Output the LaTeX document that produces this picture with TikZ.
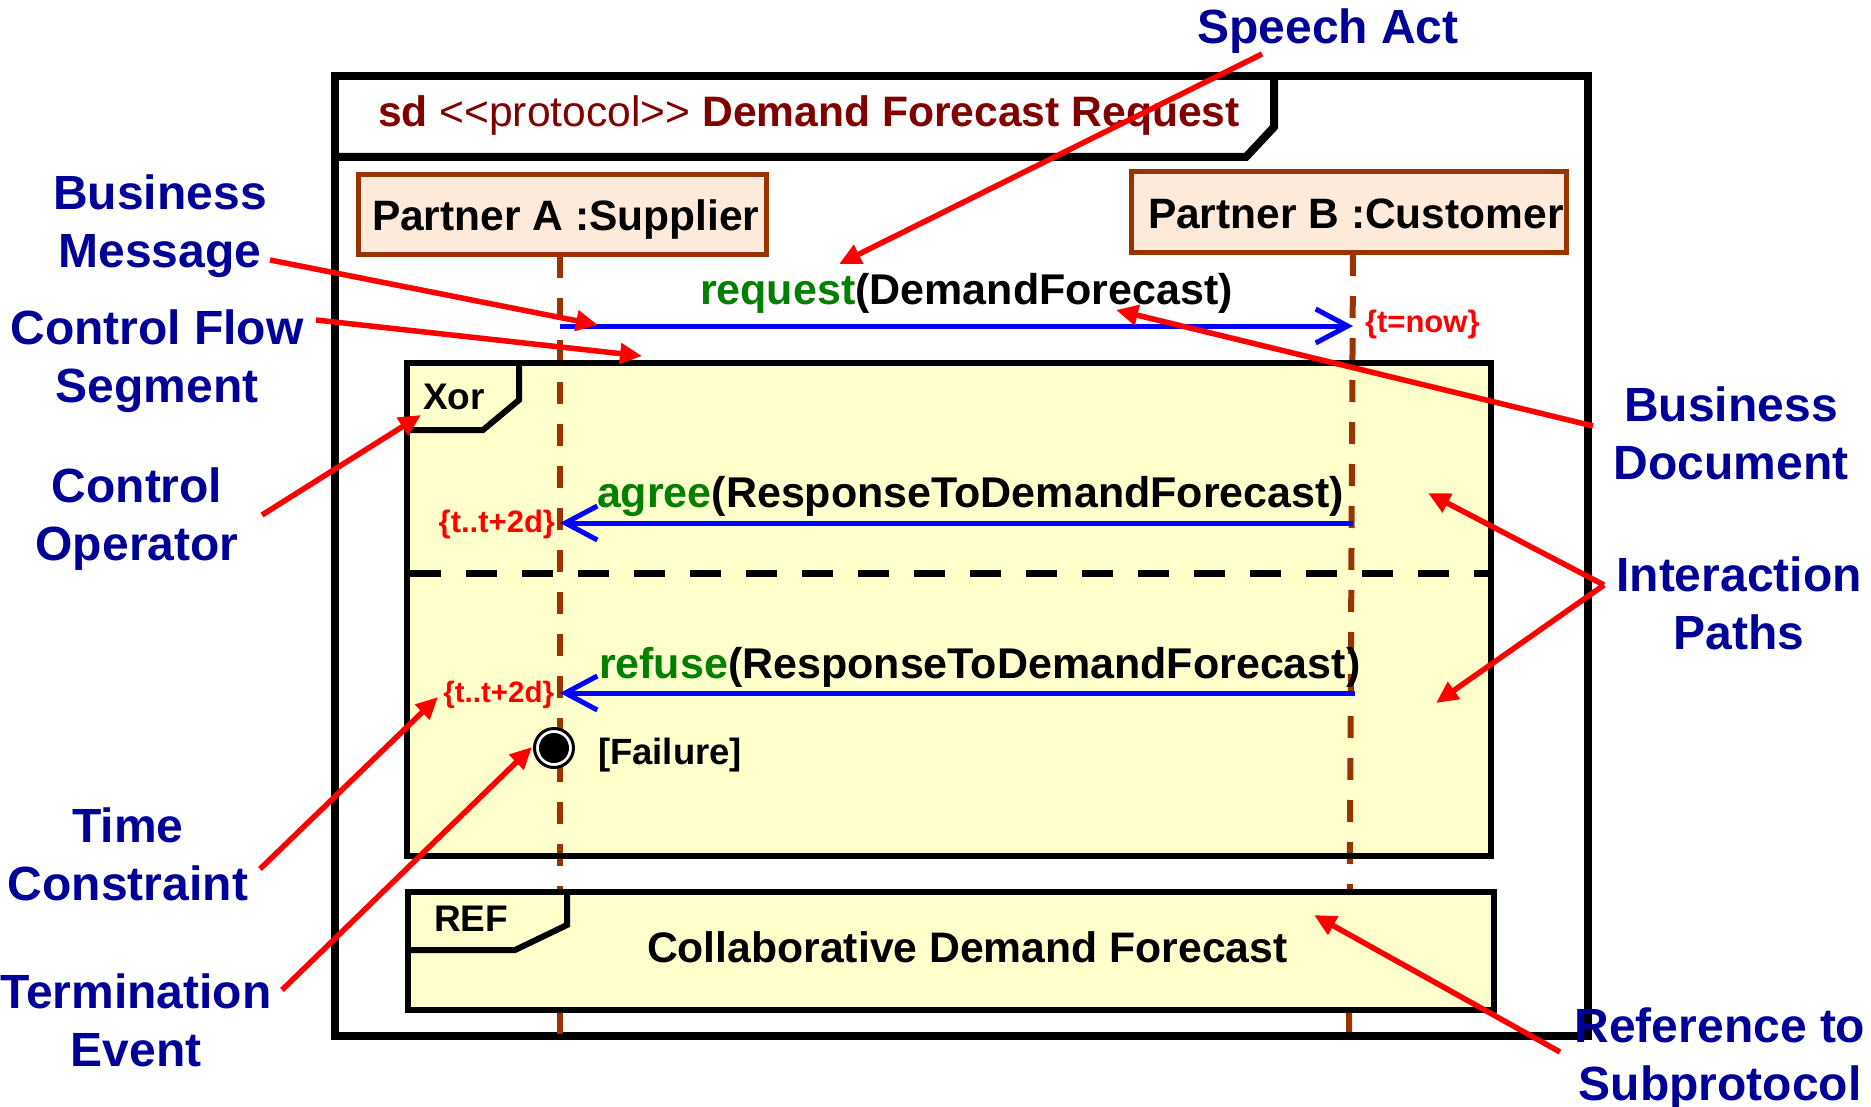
\documentclass[tikz,border=0pt]{standalone}
\usepackage{fontspec}
\setmainfont{Liberation Sans}
\usetikzlibrary{arrows.meta}

\definecolor{labelblue}{RGB}{0,0,153}
\definecolor{titlered}{RGB}{128,0,0}
\definecolor{lifebrown}{RGB}{153,51,0}
\definecolor{peach}{RGB}{253,234,218}
\definecolor{paleyellow}{RGB}{255,255,204}
\definecolor{msggreen}{RGB}{0,128,0}
\definecolor{msgblue}{RGB}{0,0,255}
\definecolor{notered}{RGB}{255,0,0}

\newcommand\setfs[2]{\fontsize{#1}{#2}\selectfont}

\begin{document}
\begin{tikzpicture}[x=1pt,y=-1pt,
  every node/.style={inner sep=0pt,outer sep=0pt},
  frameline/.style={line width=8pt,line join=miter},
  fragline/.style={line width=6pt,line join=miter},
  lifeline/.style={draw=lifebrown,line width=6pt,dash pattern=on 22pt off 20pt},
  partner/.style={draw=lifebrown,line width=5pt,fill=peach},
  partnertext/.style={anchor=base west,font=\setfs{42.5}{51}\bfseries},
  msg/.style={draw=msgblue,line width=5pt,-{Straight Barb[length=32pt,width=34pt]}},
  msgtext/.style={anchor=base west,font=\setfs{43}{52}\bfseries},
  timetext/.style={text=notered,font=\setfs{31}{37}\bfseries},
  fragtext/.style={anchor=base west,font=\setfs{37}{44}\bfseries},
  note/.style={draw=notered,line width=5.5pt,-{Triangle[length=22pt,width=20pt]}},
  notelabel/.style={text=labelblue,align=center,font=\setfs{48}{58}\bfseries},
]
\useasboundingbox (0,0) rectangle (1871,1107);

% diagram frame and its title tab
\draw[frameline,fill=white] (335,76) rectangle (1588,1036);
\draw[frameline] (335,157) -- (1246,157) -- (1274,127) -- (1274,76);
\node[anchor=base west,text=titlered,font=\setfs{42.6}{51}] (title) at (378,127)
  {\textbf{sd} <\kern0pt<protocol>\kern0pt> \textbf{Demand Forecast Request}};

% Xor combined fragment (fill first, lifelines cross it)
\fill[paleyellow] (407,363) rectangle (1491,856);

% lifelines
\coordinate (lifeA-top) at (560,256);
\coordinate (lifeA-end) at (560,1034);
\coordinate (lifeB-top) at (1353,254);
\coordinate (lifeB-end) at (1349,1034);
\draw[lifeline] (lifeA-top) -- (lifeA-end);
\draw[lifeline] (lifeB-top) -- (lifeB-end);

% Xor fragment border, tab and operand separator
\draw[fragline] (407,363) rectangle (1491,856);
\draw[fragline] (519,363) -- (519,400) -- (483,430) -- (407,430);
\node[fragtext] (xor) at (423,409) {Xor};
\coordinate (sepL) at (410,573);
\coordinate (sepR) at (1488,573);
\draw[line width=7pt,dash pattern=on 31pt off 25pt] (sepL) -- (sepR);

% REF interaction use (covers the lifelines)
\draw[fragline,fill=paleyellow] (408,892) rectangle (1494,1010);
\draw[fragline] (567,892) -- (567,925) -- (515,950) -- (408,950);
\node[fragtext] (ref) at (434,931) {REF};
\node[msgtext,font=\setfs{42.7}{51}\bfseries] (refname) at (647,962) {Collaborative Demand Forecast};

% partners
\node[partner,minimum width=408pt,minimum height=80pt] (pa) at (562,215) {};
\node[partnertext] (patext) at (372,231) {Partner A :Supplier};
\node[partner,minimum width=435pt,minimum height=81pt] (pb) at (1349,212.5) {};
\node[partnertext] (pbtext) at (1148,229) {Partner B :Customer};

% request message
\coordinate (reqA) at (560,326);
\coordinate (reqB) at (1353,326);
\draw[msg] (reqA) -- (reqB);
\node[msgtext] (reqtext) at (700,305) {\textcolor{msggreen}{request}(DemandForecast)};
\node[timetext,anchor=base west] (tnow) at (1365,332) {\{t=now\}};

% agree message
\coordinate (agrB) at (1353,523);
\coordinate (agrA) at (560,523);
\draw[msg] (agrB) -- (agrA);
\node[msgtext] (agrtext) at (597,507) {\textcolor{msggreen}{agree}(ResponseToDemandForecast)};
\node[timetext,anchor=base east] (tagr) at (555,532) {\{t..t+2d\}};

% refuse message
\coordinate (refB) at (1355,693);
\coordinate (refA) at (560,693);
\draw[msg] (refB) -- (refA);
\node[msgtext] (reftext) at (599,678) {\textcolor{msggreen}{refuse}(ResponseToDemandForecast)};
\node[timetext,anchor=base east,font=\setfs{29.5}{35}\bfseries] (tref) at (554,702) {\{t..t+2d\}};

% termination event
\node[circle,draw=black,line width=3pt,fill=white,minimum size=39pt] (term) at (554,748) {};
\fill (term.center) circle (15);
\node[anchor=base west,font=\setfs{36.5}{44}\bfseries] (fail) at (598,764) {[Failure]};

% annotation labels
\node[notelabel] (lspeech) at (1328,31) {Speech Act};
\node[notelabel] (lbmsg) at (160,226) {Business\\Message};
\node[notelabel] (lcfs) at (157,361) {Control Flow\\Segment};
\node[notelabel] (lcop) at (137,519) {Control\\Operator};
\node[notelabel] (ltime) at (128,854) {Time\\Constraint};
\node[notelabel] (lterm) at (136,1020) {Termination\\Event};
\node[notelabel] (lbdoc) at (1731,433) {Business\\Document};
\node[notelabel] (lpaths) at (1739,603) {Interaction\\Paths};
\node[notelabel] (lsub) at (1720,1059) {Reference to\\Subprotocol};

% annotation pointers
\coordinate (speech-from) at (1262,54);
\coordinate (speech-to) at (839,264);
\coordinate (bmsg-from) at (270,260);
\coordinate (bmsg-to) at (598,325);
\coordinate (cfs-from) at (316,320);
\coordinate (cfs-to) at (642,356);
\coordinate (cop-from) at (262,515);
\coordinate (cop-to) at (421,415);
\coordinate (time-from) at (260,869);
\coordinate (time-to) at (438,697);
\coordinate (term-from) at (282,990);
\coordinate (term-to) at (532,747);
\coordinate (bdoc-from) at (1593,426);
\coordinate (bdoc-to) at (1116,310);
\coordinate (paths-from) at (1604,585);
\coordinate (paths-to1) at (1428,493);
\coordinate (paths-to2) at (1436,703);
\coordinate (sub-from) at (1560,1052);
\coordinate (sub-to) at (1314,915);

\draw[note] (speech-from) -- (speech-to);
\draw[note] (bmsg-from) -- (bmsg-to);
\draw[note] (cfs-from) -- (cfs-to);
\draw[note] (cop-from) -- (cop-to);
\draw[note] (time-from) -- (time-to);
\draw[note] (term-from) -- (term-to);
\draw[note] (bdoc-from) -- (bdoc-to);
\draw[note] (paths-from) -- (paths-to1);
\draw[note] (paths-from) -- (paths-to2);
\draw[note] (sub-from) -- (sub-to);
\end{tikzpicture}
\end{document}
